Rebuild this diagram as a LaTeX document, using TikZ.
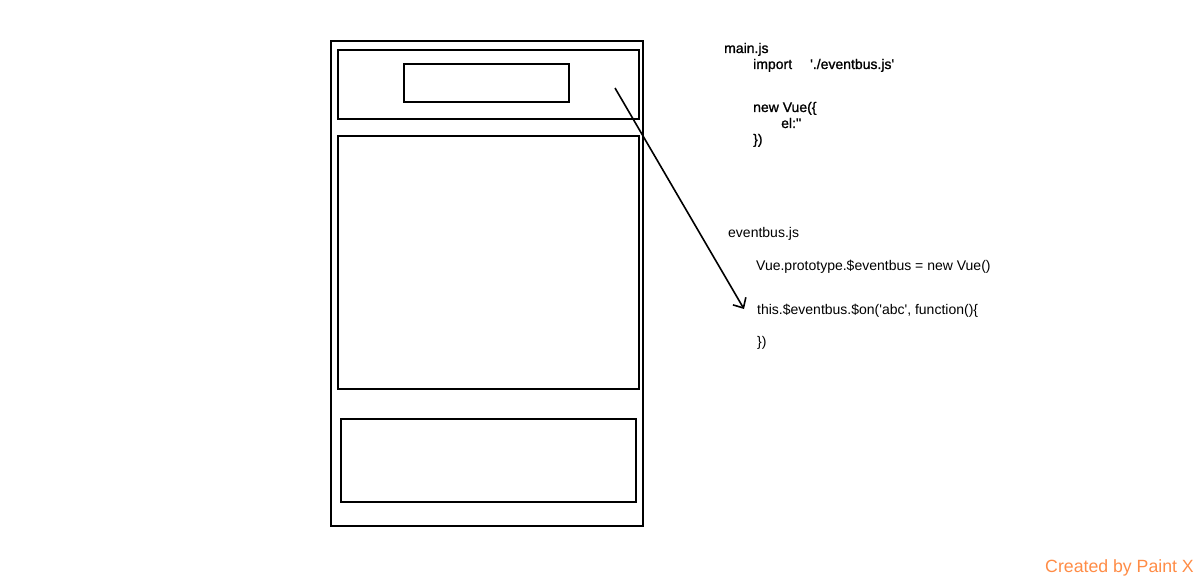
\documentclass[tikz,border=0pt]{standalone}
\usepackage{fontspec}
\setmainfont{Liberation Sans}[Ligatures=TeXOff]
\newfontfamily\heavycode{Liberation Sans}[Ligatures=TeXOff,FakeBold=1.2]
\usetikzlibrary{arrows.meta}
\begin{document}
\begin{tikzpicture}[x=1pt,y=-1pt,
	box/.style={draw=black, line width=2pt, inner sep=0pt, anchor=north west},
	code/.style={inner sep=0pt, anchor=base west, font=\fontsize{14}{16}\selectfont},
	maincode/.style={code, font=\fontsize{14}{16}\heavycode},
	flow/.style={line width=1.6pt, -{Straight Barb[length=8pt,width=15pt,line width=1.6pt]}}]
	\useasboundingbox (0,0) rectangle (1200,580);
	% phone layout
	\node [box, minimum width=312pt, minimum height=484pt] (phone) at (329.5,40.5) {};
	\node [box, minimum width=301pt, minimum height=69pt] (header) at (336.5,49.5) {};
	\node [box, minimum width=165pt, minimum height=38pt] (title) at (402.5,63.5) {};
	\node [box, minimum width=301pt, minimum height=252pt] (content) at (336.5,135.5) {};
	\node [box, minimum width=295pt, minimum height=83pt] (footer) at (339.5,417.5) {};
	% main.js
	\node [maincode] (mainjs) at (724,53) {main.js};
	\node [maincode] (import) at (753,69) {import};
	\node [maincode] (importpath) at (810,69) {'./eventbus.js'};
	\node [maincode] (newvue) at (753,112) {new Vue(\{};
	\node [maincode] (el) at (781,128) {el:''};
	\node [maincode] (newvueend) at (753,144) {\})};
	% eventbus.js
	\node [code] (eventbusjs) at (728,238) {eventbus.js};
	\node [code] (proto) at (756,271) {Vue.prototype.\$eventbus = new Vue()};
	\node [code] (on) at (757,314) {this.\$eventbus.\$on('abc', function()\{};
	\node [code] (onend) at (757,346) {\})};
	% arrow
	\coordinate (from) at (615,88);
	\coordinate (to) at (744,309);
	\draw [flow] (from) -- (to);
	\node [inner sep=0pt, anchor=base east, text={rgb,255:red,255;green,140;blue,70},
		font=\fontsize{17.7}{20}\selectfont] (credit) at (1194,572) {Created by Paint X};
\end{tikzpicture}
\end{document}
